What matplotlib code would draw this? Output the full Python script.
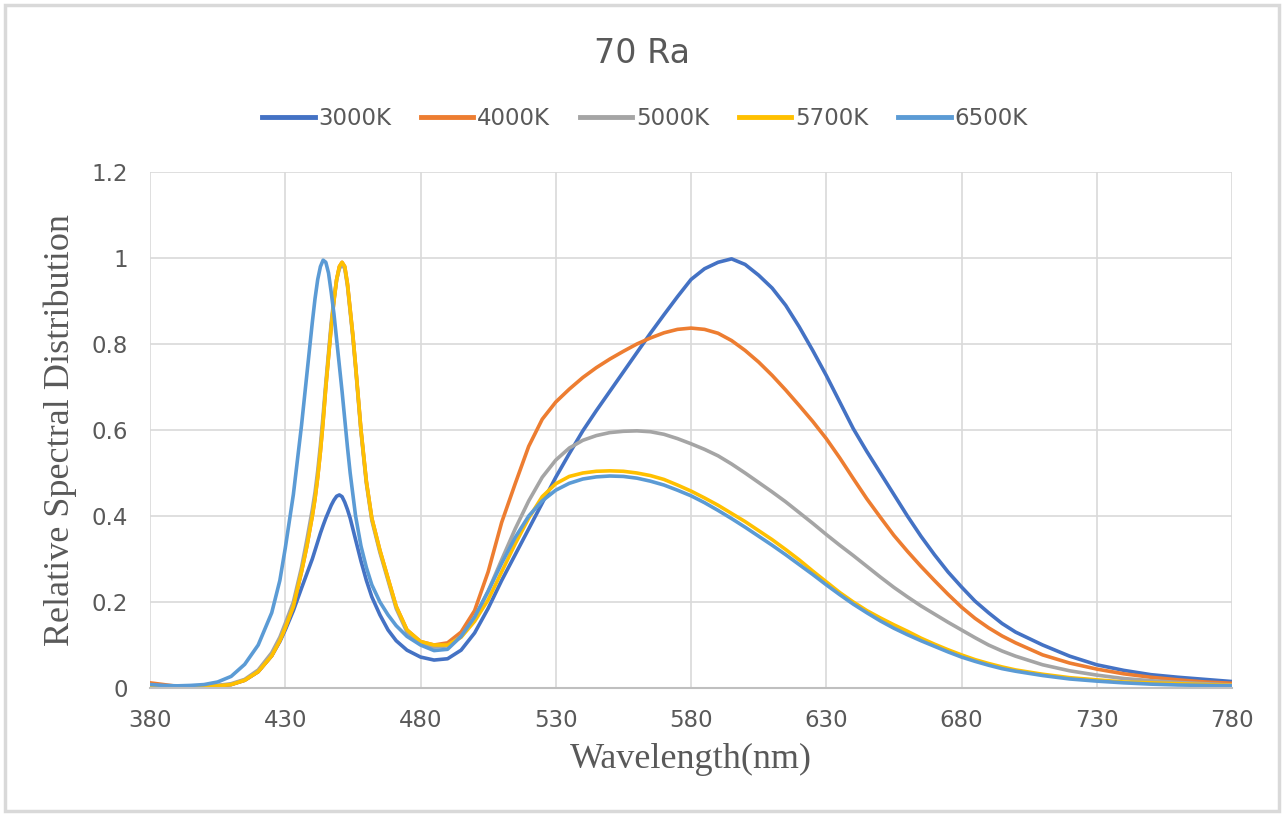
import matplotlib
matplotlib.use("Agg")
import matplotlib.pyplot as plt
from matplotlib.patches import Rectangle

# wavelength grid (nm) the values were read at
wavelength = ([380, 385, 390, 395, 400, 405, 410, 415, 420, 425, 428, 430, 433, 436, 438]
              + list(range(440, 457))
              + [458, 460, 462, 465, 468, 471, 475]
              + list(range(480, 701, 5))
              + [710, 720, 730, 740, 750, 760, 770, 780])

k3000 = [0.006, 0.004, 0.003, 0.003, 0.004, 0.005, 0.008, 0.018, 0.038, 0.075, 0.108, 0.135, 0.18, 0.232, 0.266,
         0.30, 0.32, 0.34, 0.36, 0.378, 0.395, 0.41, 0.425, 0.437, 0.446, 0.449, 0.445, 0.432, 0.415, 0.395, 0.37, 0.345,
         0.295, 0.25, 0.212, 0.17, 0.135, 0.11, 0.088,
         0.072, 0.065, 0.068, 0.088, 0.128, 0.185, 0.25, 0.31, 0.37, 0.43, 0.49, 0.545, 0.598, 0.645, 0.69, 0.735,
         0.78, 0.825, 0.868, 0.91, 0.95, 0.975, 0.99, 0.998, 0.985, 0.96, 0.93, 0.89, 0.84, 0.785, 0.727, 0.665,
         0.603, 0.55, 0.50, 0.45, 0.40, 0.353, 0.31, 0.27, 0.235, 0.202, 0.175, 0.15, 0.13,
         0.10, 0.074, 0.054, 0.041, 0.031, 0.025, 0.02, 0.015]

k4000 = [0.012, 0.008, 0.004, 0.003, 0.004, 0.005, 0.008, 0.018, 0.038, 0.075, 0.11, 0.14, 0.19, 0.27, 0.33,
         0.40, 0.44, 0.49, 0.55, 0.62, 0.70, 0.77, 0.84, 0.90, 0.95, 0.98, 0.99, 0.98, 0.94, 0.88, 0.82, 0.75,
         0.60, 0.48, 0.395, 0.32, 0.255, 0.19, 0.135,
         0.108, 0.10, 0.105, 0.13, 0.18, 0.27, 0.385, 0.475, 0.562, 0.625, 0.665, 0.695, 0.722, 0.745, 0.765, 0.783,
         0.80, 0.814, 0.826, 0.834, 0.837, 0.834, 0.825, 0.808, 0.785, 0.758, 0.727, 0.693, 0.657, 0.62, 0.58, 0.535,
         0.487, 0.44, 0.397, 0.355, 0.318, 0.283, 0.25, 0.218, 0.188, 0.162, 0.14, 0.121, 0.105,
         0.077, 0.058, 0.044, 0.033, 0.025, 0.019, 0.014, 0.011]

k5000 = [0.006, 0.005, 0.004, 0.004, 0.005, 0.006, 0.01, 0.02, 0.042, 0.082, 0.118, 0.15, 0.20, 0.28, 0.345,
         0.415, 0.455, 0.505, 0.565, 0.635, 0.71, 0.78, 0.85, 0.905, 0.95, 0.975, 0.985, 0.975, 0.935, 0.875, 0.815, 0.745,
         0.595, 0.475, 0.39, 0.315, 0.25, 0.185, 0.13,
         0.103, 0.095, 0.098, 0.12, 0.163, 0.225, 0.298, 0.37, 0.435, 0.49, 0.53, 0.558, 0.576, 0.587, 0.594, 0.597,
         0.598, 0.596, 0.59, 0.58, 0.568, 0.555, 0.54, 0.521, 0.50, 0.478, 0.456, 0.433, 0.408, 0.383, 0.357, 0.332,
         0.308, 0.283, 0.258, 0.234, 0.212, 0.191, 0.172, 0.153, 0.135, 0.117, 0.10, 0.086, 0.074,
         0.054, 0.04, 0.03, 0.022, 0.017, 0.013, 0.01, 0.007]

k5700 = [0.005, 0.004, 0.003, 0.003, 0.004, 0.005, 0.008, 0.018, 0.038, 0.075, 0.11, 0.14, 0.19, 0.27, 0.33,
         0.40, 0.44, 0.49, 0.55, 0.62, 0.70, 0.77, 0.84, 0.90, 0.95, 0.98, 0.99, 0.98, 0.94, 0.88, 0.82, 0.75,
         0.60, 0.48, 0.395, 0.32, 0.255, 0.19, 0.135,
         0.108, 0.10, 0.10, 0.118, 0.155, 0.205, 0.27, 0.335, 0.395, 0.445, 0.475, 0.492, 0.50, 0.504, 0.505, 0.504,
         0.50, 0.494, 0.485, 0.472, 0.458, 0.442, 0.425, 0.406, 0.387, 0.366, 0.345, 0.322, 0.298, 0.272, 0.247, 0.222,
         0.20, 0.18, 0.163, 0.147, 0.132, 0.116, 0.102, 0.089, 0.077, 0.066, 0.057, 0.049, 0.042,
         0.032, 0.024, 0.019, 0.014, 0.012, 0.01, 0.008, 0.006]

k6500 = [0.008, 0.006, 0.005, 0.006, 0.008, 0.014, 0.027, 0.055, 0.10, 0.175, 0.25, 0.325, 0.45, 0.61, 0.73,
         0.85, 0.905, 0.95, 0.98, 0.995, 0.99, 0.965, 0.92, 0.87, 0.81, 0.75, 0.69, 0.625, 0.56, 0.50, 0.45, 0.40,
         0.33, 0.28, 0.24, 0.20, 0.17, 0.145, 0.12,
         0.10, 0.087, 0.09, 0.12, 0.165, 0.225, 0.29, 0.35, 0.40, 0.435, 0.46, 0.476, 0.486, 0.491, 0.493, 0.492,
         0.488, 0.481, 0.472, 0.46, 0.447, 0.431, 0.413, 0.394, 0.374, 0.353, 0.332, 0.31, 0.287, 0.264, 0.24, 0.217,
         0.195, 0.175, 0.156, 0.139, 0.124, 0.11, 0.097, 0.084, 0.072, 0.062, 0.053, 0.045, 0.039,
         0.029, 0.021, 0.016, 0.012, 0.009, 0.007, 0.006, 0.005]

labels = ["3000K", "4000K", "5000K", "5700K", "6500K"]
colors = ["#4472C4", "#ED7D31", "#A5A5A5", "#FFC000", "#5B9BD5"]
series = [k3000, k4000, k5000, k5700, k6500]

x_ticks = [380, 430, 480, 530, 580, 630, 680, 730, 780]
y_ticks = [0, 0.2, 0.4, 0.6, 0.8, 1, 1.2]
y_tick_labels = ["0", "0.2", "0.4", "0.6", "0.8", "1", "1.2"]

text_grey = "#595959"
grid_grey = "#d9d9d9"

fig = plt.figure(figsize=(12.84, 8.16), dpi=100)
fig.patches.append(Rectangle((0.004, 0.006), 0.992, 0.988, transform=fig.transFigure,
                             fill=False, edgecolor=grid_grey, linewidth=2.5))
ax = fig.add_axes([150 / 1284, 1 - 688 / 816, (1232 - 150) / 1284, (688 - 172) / 816])

for vals, lab, col in zip(series, labels, colors):
    ax.plot(wavelength, vals, color=col, linewidth=2.6, label=lab, solid_joinstyle="round")

ax.set_xlim(380, 780)
ax.set_ylim(0, 1.2)
ax.set_xticks(x_ticks)
ax.set_yticks(y_ticks)
ax.set_yticklabels(y_tick_labels)
ax.grid(True, color=grid_grey, linewidth=1.2)
ax.set_axisbelow(True)
for s in ["top", "right", "left"]:
    ax.spines[s].set_visible(False)
ax.spines["bottom"].set_color("#bfbfbf")
ax.spines["bottom"].set_linewidth(1.5)
ax.tick_params(length=0, labelsize=16.5, labelcolor=text_grey)
ax.tick_params(axis="x", pad=15)
ax.tick_params(axis="y", pad=16)

ax.set_xlabel("Wavelength(nm)", fontsize=26, family="Liberation Serif", color=text_grey, labelpad=8)
ax.set_ylabel("Relative Spectral Distribution", fontsize=26, family="Liberation Serif",
              color=text_grey, labelpad=10)

fig.text(0.5, 0.934, "70 Ra", ha="center", va="center", fontsize=24, color=text_grey)
fig.legend(loc="center", bbox_to_anchor=(0.502, 0.855), ncol=5, frameon=False,
           fontsize=16.5, labelcolor=text_grey, handlelength=2.3, handletextpad=0.15,
           columnspacing=1.3)
for line in fig.legends[0].get_lines():
    line.set_linewidth(3.5)

fig.savefig("out.png", dpi=100)
